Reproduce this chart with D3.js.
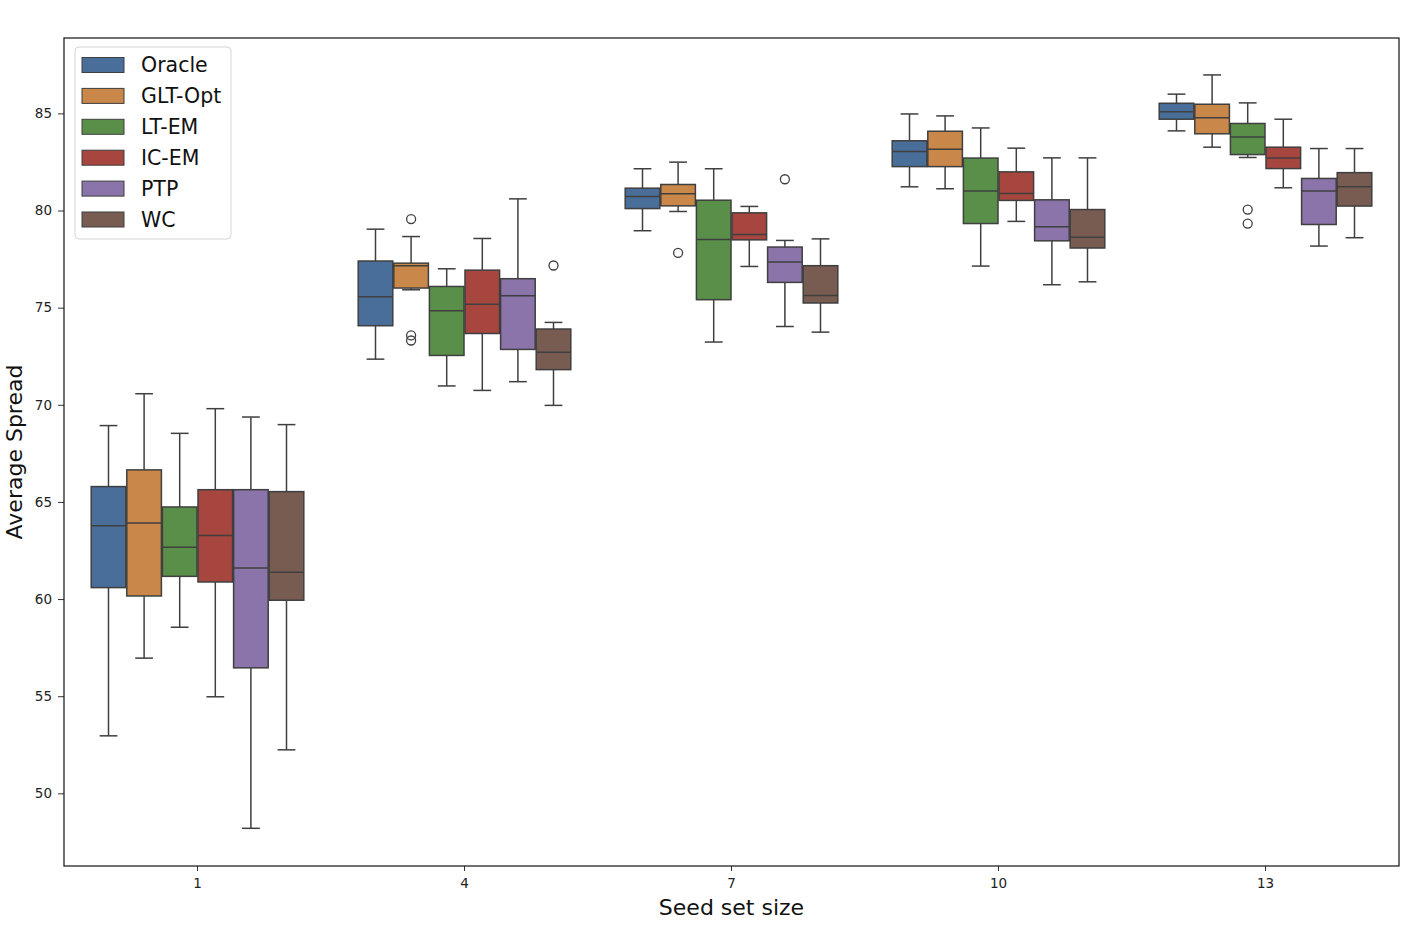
<!DOCTYPE html>
<html>
<head>
<meta charset="utf-8">
<script src="https://cdn.jsdelivr.net/npm/d3@7"></script>
<style>
  body { margin: 0; background: #fff; }
  svg { font-family: "DejaVu Sans", sans-serif; }
</style>
</head>
<body>
<svg id="drawing_region"></svg>
<script>
// seed set sizes (x categories) and methods (hue)
const seedSizes = ["1", "4", "7", "10", "13"];
const methods = ["Oracle", "GLT-Opt", "LT-EM", "IC-EM", "PTP", "WC"];
const colors = ["#4a6e9a", "#c98849", "#5a8f49", "#a7463f", "#8b74aa", "#785c52"];

// [lower whisker, Q1, median, Q3, upper whisker] per seed size
const oracle = [[52.96, 60.59, 63.77, 65.79, 68.93], [72.35, 74.07, 75.56, 77.40, 79.04], [78.96, 80.10, 80.72, 81.15, 82.15], [81.22, 82.26, 83.04, 83.59, 84.97], [84.10, 84.70, 85.09, 85.52, 85.99]];
const gltOpt = [[56.96, 60.16, 63.92, 66.65, 70.57], [75.92, 76.01, 77.16, 77.29, 78.66], [79.95, 80.24, 80.86, 81.34, 82.49], [81.12, 82.26, 83.16, 84.08, 84.87], [83.26, 83.95, 84.77, 85.47, 86.98]];
const ltEm = [[58.55, 61.17, 62.67, 64.74, 68.53], [70.97, 72.54, 74.84, 76.09, 77.00], [73.23, 75.41, 78.51, 80.53, 82.15], [77.14, 79.33, 81.01, 82.70, 84.25], [82.73, 82.88, 83.78, 84.48, 85.54]];
const icEm = [[54.97, 60.88, 63.27, 65.63, 69.80], [70.74, 73.67, 75.18, 76.93, 78.56], [77.12, 78.49, 78.77, 79.88, 80.21], [79.44, 80.52, 80.87, 81.99, 83.21], [81.17, 82.16, 82.70, 83.26, 84.70]];
const ptp = [[48.20, 56.46, 61.60, 65.63, 69.37], [71.19, 72.85, 75.61, 76.49, 80.60], [74.03, 76.30, 77.35, 78.12, 78.46], [76.18, 78.44, 79.16, 80.55, 82.71], [78.17, 79.28, 81.00, 81.65, 83.19]];
const wc = [[52.24, 59.94, 61.38, 65.53, 68.98], [69.97, 71.81, 72.70, 73.90, 74.24], [73.74, 75.24, 75.63, 77.16, 78.54], [76.33, 78.07, 78.63, 80.05, 82.71], [78.60, 80.23, 81.22, 81.95, 83.19]];

// outliers: [seed size, method, value]
const outliers = [
    ["4", "GLT-Opt", 79.56], ["4", "GLT-Opt", 73.57], ["4", "GLT-Opt", 73.31],
    ["4", "WC", 77.17],
    ["7", "GLT-Opt", 77.82], ["7", "PTP", 81.61],
    ["13", "LT-EM", 80.05], ["13", "LT-EM", 79.33]
];

const yTicks = [50, 55, 60, 65, 70, 75, 80, 85];

const statsByMethod = [oracle, gltOpt, ltEm, icEm, ptp, wc];
const boxes = [];
methods.forEach((m, mi) => {
    seedSizes.forEach((s, si) => {
        const st = statsByMethod[mi][si];
        boxes.push({ seed: s, method: m, lo: st[0], q1: st[1], med: st[2], q3: st[3], hi: st[4] });
    });
});

const width = 1426, height = 942;
const margin = { top: 38, right: 27, bottom: 76, left: 64 };
const innerW = width - margin.left - margin.right;
const innerH = height - margin.top - margin.bottom;
const lineColor = "#3f3f3f";

const svg = d3.select("#drawing_region")
    .attr("width", width)
    .attr("height", height);

const chart = svg.append("g")
    .attr("transform", `translate(${margin.left}, ${margin.top})`);

const xscale = d3.scaleBand()
    .domain(seedSizes)
    .range([0, innerW])
    .padding(0);

const hscale = d3.scaleBand()
    .domain(methods)
    .range([xscale.bandwidth() * 0.1, xscale.bandwidth() * 0.9])
    .padding(0);

const yscale = d3.scaleLinear()
    .domain([46.26, 88.88])
    .range([innerH, 0]);

const color = d3.scaleOrdinal().domain(methods).range(colors);

// axes
const xaxis = d3.axisBottom(xscale).tickSize(5).tickPadding(7);
const yaxis = d3.axisLeft(yscale).tickValues(yTicks).tickSize(6).tickPadding(6);

const xg = chart.append("g")
    .attr("transform", `translate(0, ${innerH})`)
    .call(xaxis);
const yg = chart.append("g").call(yaxis);

[xg, yg].forEach(g => {
    g.select(".domain").remove();
    g.selectAll(".tick line").attr("stroke", "#333").attr("stroke-width", 1);
    g.selectAll(".tick text")
        .attr("fill", "#222")
        .attr("font-size", "13.5px")
        .attr("font-family", "DejaVu Sans, sans-serif");
});

// boxes
const boxW = hscale.bandwidth();
const gap = 1;
const bx = d => xscale(d.seed) + hscale(d.method);
const cx = d => bx(d) + boxW / 2;

const bg = chart.append("g");

// whiskers
bg.selectAll(".whisk-lo")
    .data(boxes).enter().append("line")
    .attr("x1", cx).attr("x2", cx)
    .attr("y1", d => yscale(d.q1)).attr("y2", d => yscale(d.lo))
    .attr("stroke", lineColor).attr("stroke-width", 1.5);
bg.selectAll(".whisk-hi")
    .data(boxes).enter().append("line")
    .attr("x1", cx).attr("x2", cx)
    .attr("y1", d => yscale(d.q3)).attr("y2", d => yscale(d.hi))
    .attr("stroke", lineColor).attr("stroke-width", 1.5);
["lo", "hi"].forEach(k => {
    bg.selectAll(".cap-" + k)
        .data(boxes).enter().append("line")
        .attr("x1", d => cx(d) - boxW / 4).attr("x2", d => cx(d) + boxW / 4)
        .attr("y1", d => yscale(d[k])).attr("y2", d => yscale(d[k]))
        .attr("stroke", lineColor).attr("stroke-width", 1.5);
});

bg.selectAll("rect.box")
    .data(boxes).enter().append("rect")
    .attr("class", "box")
    .attr("x", d => bx(d) + gap / 2)
    .attr("width", boxW - gap)
    .attr("y", d => yscale(d.q3))
    .attr("height", d => yscale(d.q1) - yscale(d.q3))
    .attr("fill", d => color(d.method))
    .attr("stroke", lineColor).attr("stroke-width", 1.5);

bg.selectAll(".median")
    .data(boxes).enter().append("line")
    .attr("x1", d => bx(d) + gap / 2).attr("x2", d => bx(d) + boxW - gap / 2)
    .attr("y1", d => yscale(d.med)).attr("y2", d => yscale(d.med))
    .attr("stroke", lineColor).attr("stroke-width", 1.5);

bg.selectAll("circle.flier")
    .data(outliers).enter().append("circle")
    .attr("class", "flier")
    .attr("cx", d => xscale(d[0]) + hscale(d[1]) + boxW / 2)
    .attr("cy", d => yscale(d[2]))
    .attr("r", 4.5)
    .attr("fill", "none")
    .attr("stroke", lineColor).attr("stroke-width", 1.3);

// frame
chart.append("rect")
    .attr("width", innerW).attr("height", innerH)
    .attr("fill", "none").attr("stroke", "#111").attr("stroke-width", 1.2);

// axis labels
svg.append("text")
    .attr("x", margin.left + innerW / 2)
    .attr("y", 915)
    .attr("text-anchor", "middle")
    .attr("font-size", "22px")
    .attr("fill", "#111")
    .text("Seed set size");

svg.append("text")
    .attr("transform", `translate(22, ${margin.top + innerH / 2}) rotate(-90)`)
    .attr("text-anchor", "middle")
    .attr("font-size", "22px")
    .attr("fill", "#111")
    .text("Average Spread");

// legend
const legend = chart.append("g").attr("transform", "translate(11, 9)");
legend.append("rect")
    .attr("width", 156).attr("height", 192)
    .attr("rx", 4)
    .attr("fill", "#fff").attr("fill-opacity", 0.8)
    .attr("stroke", "#d5d5d5");
const items = legend.selectAll(".item")
    .data(methods).enter().append("g")
    .attr("transform", (d, i) => `translate(0, ${18 + i * 30.9})`);
items.append("rect")
    .attr("x", 7).attr("y", -7.5)
    .attr("width", 42).attr("height", 15)
    .attr("fill", d => color(d))
    .attr("stroke", lineColor).attr("stroke-width", 1);
items.append("text")
    .attr("x", 66).attr("y", 7)
    .attr("font-size", "20.5px")
    .attr("fill", "#111")
    .text(d => d);
</script>
</body>
</html>
